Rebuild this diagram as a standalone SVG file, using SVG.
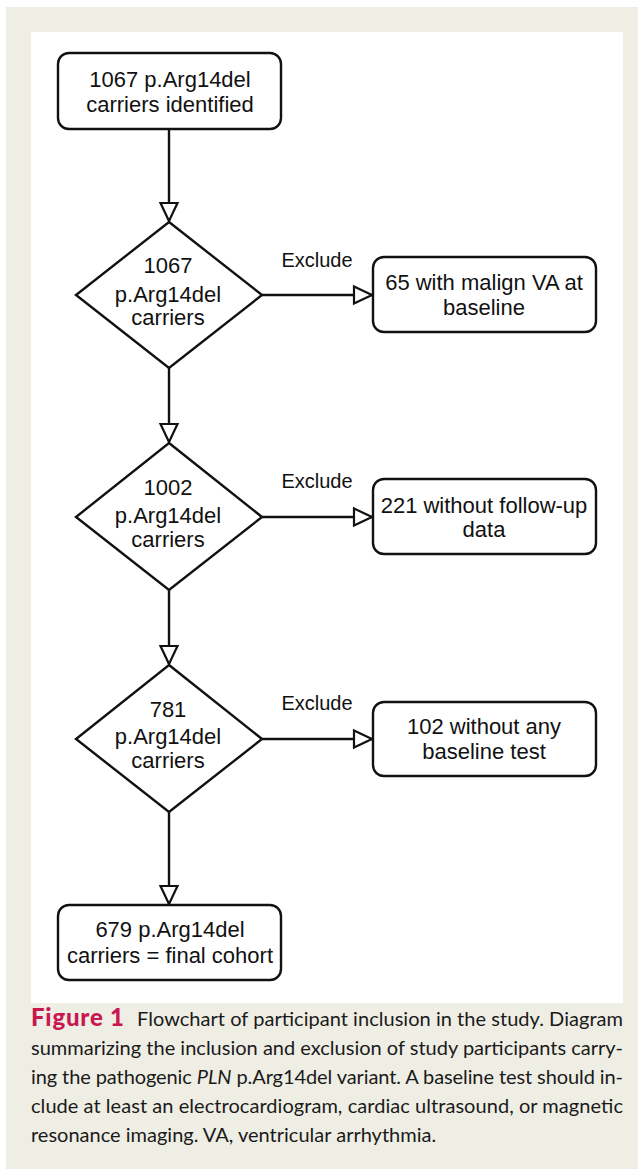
<svg xmlns="http://www.w3.org/2000/svg" width="639" height="1169" viewBox="0 0 639 1169">
<style>
.node{fill:#ffffff;stroke:#111111;stroke-width:2.4}
.t{font-family:"Liberation Sans",Arial,sans-serif;font-size:22px;fill:#111111;text-anchor:middle}
.lbl{font-family:"Liberation Sans",Arial,sans-serif;font-size:20px;fill:#111111;text-anchor:middle}
.conn{fill:none;stroke:#111111;stroke-width:2.4}
.cap{font-family:Lato,"Open Sans",sans-serif;font-size:20px;fill:#1a1a1a}
.fig{font-family:Lato,"Open Sans",sans-serif;font-size:24px;font-weight:900;fill:#c9184f}
</style>
<defs>
<marker id="arr" markerUnits="userSpaceOnUse" markerWidth="22" markerHeight="22" viewBox="0 0 22 22" refX="20" refY="11" orient="auto">
<path d="M2,2.5 L20,11 L2,19.5 Z" fill="#ffffff" stroke="#111111" stroke-width="2.2"/>
</marker>
</defs>
<rect x="6" y="7" width="632" height="1162" fill="#efeee5"/>
<rect x="31" y="32" width="592" height="971" fill="#ffffff"/>

<g id="connectors">
<line class="conn" x1="169" y1="129" x2="169" y2="221" marker-end="url(#arr)"/>
<line class="conn" x1="169" y1="368" x2="169" y2="442" marker-end="url(#arr)"/>
<line class="conn" x1="169" y1="590" x2="169" y2="664" marker-end="url(#arr)"/>
<line class="conn" x1="169" y1="812" x2="169" y2="904" marker-end="url(#arr)"/>
<line class="conn" x1="262" y1="295" x2="372" y2="295" marker-end="url(#arr)"/>
<line class="conn" x1="262" y1="517" x2="372" y2="517" marker-end="url(#arr)"/>
<line class="conn" x1="262" y1="739" x2="372" y2="739" marker-end="url(#arr)"/>
<text class="lbl" x="317" y="267">Exclude</text>
<text class="lbl" x="317" y="488">Exclude</text>
<text class="lbl" x="317" y="710">Exclude</text>
</g>

<g id="start">
<rect class="node" x="58" y="53" width="223" height="76" rx="11"/>
<text class="t" x="170" y="87">1067 p.Arg14del</text>
<text class="t" x="170" y="112">carriers identified</text>
</g>

<g id="decision1">
<polygon class="node" points="169,222 262,295 169,368 76,295"/>
<text class="t" x="168" y="273">1067</text>
<text class="t" x="168" y="302">p.Arg14del</text>
<text class="t" x="168" y="325">carriers</text>
</g>

<g id="exclude1">
<rect class="node" x="373" y="257" width="223" height="75" rx="11"/>
<text class="t" x="484" y="290">65 with malign VA at</text>
<text class="t" x="484" y="315">baseline</text>
</g>

<g id="decision2">
<polygon class="node" points="169,443 262,517 169,590 76,517"/>
<text class="t" x="168" y="495">1002</text>
<text class="t" x="168" y="523">p.Arg14del</text>
<text class="t" x="168" y="547">carriers</text>
</g>

<g id="exclude2">
<rect class="node" x="373" y="479" width="223" height="75" rx="11"/>
<text class="t" x="484" y="513">221 without follow-up</text>
<text class="t" x="484" y="537">data</text>
</g>

<g id="decision3">
<polygon class="node" points="169,665 262,739 169,812 76,739"/>
<text class="t" x="168" y="717">781</text>
<text class="t" x="168" y="744">p.Arg14del</text>
<text class="t" x="168" y="768">carriers</text>
</g>

<g id="exclude3">
<rect class="node" x="373" y="702" width="223" height="74" rx="11"/>
<text class="t" x="484" y="734">102 without any</text>
<text class="t" x="484" y="759">baseline test</text>
</g>

<g id="final">
<rect class="node" x="58" y="905" width="223" height="75" rx="11"/>
<text class="t" x="170" y="937">679 p.Arg14del</text>
<text class="t" x="170" y="963">carriers = final cohort</text>
</g>

<g id="caption">
<text class="fig" x="31" y="1026" textLength="93" lengthAdjust="spacing">Figure 1</text>
<text class="cap" x="137" y="1026" textLength="486" lengthAdjust="spacing">Flowchart of participant inclusion in the study. Diagram</text>
<text class="cap" x="31" y="1055" textLength="592" lengthAdjust="spacing">summarizing the inclusion and exclusion of study participants carry-</text>
<text class="cap" x="31" y="1084" textLength="592" lengthAdjust="spacing">ing the pathogenic <tspan font-style="italic">PLN</tspan> p.Arg14del variant. A baseline test should in-</text>
<text class="cap" x="31" y="1113" textLength="592" lengthAdjust="spacing">clude at least an electrocardiogram, cardiac ultrasound, or magnetic</text>
<text class="cap" x="31" y="1142">resonance imaging. VA, ventricular arrhythmia.</text>
</g>
</svg>
